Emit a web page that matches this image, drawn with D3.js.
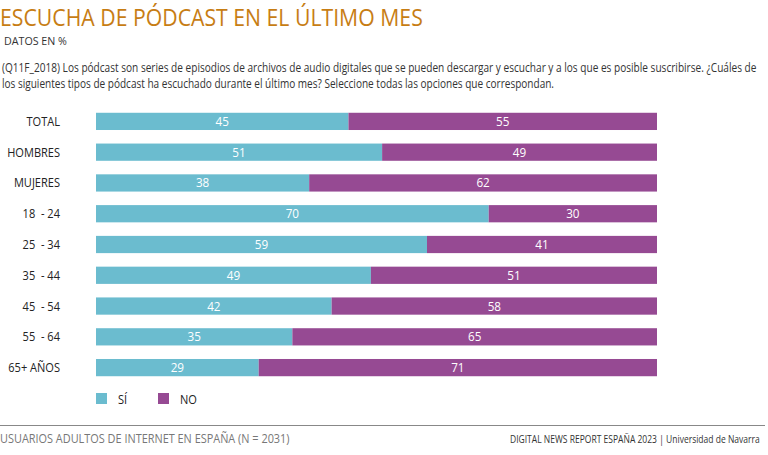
<!DOCTYPE html>
<html><head><meta charset="utf-8">
<script src="https://cdn.jsdelivr.net/npm/d3@7"></script>
<style>body{margin:0;background:#fff}text{font-family:"Open Sans",sans-serif}</style>
</head><body>
<svg id="c" width="768" height="455"></svg>
<script>
const categories = ["TOTAL","HOMBRES","MUJERES","18  - 24","25  - 34","35  - 44","45  - 54","55  - 64","65+ AÑOS"];
const si = [45,51,38,70,59,49,42,35,29];
const no = [55,49,62,30,41,51,58,65,71];
const seriesNames = ["SÍ","NO"];
const colors = ["#6bbccf","#964a93"];

const svg = d3.select("#c");
// horizontally scale a text (reference uses a condensed face); f = factor or target width via w
function squeeze(sel, opt){
  sel.each(function(){
    const t = d3.select(this);
    const x = +t.attr("x"), y = +t.attr("y");
    const l = this.getComputedTextLength();
    const s = opt.w ? opt.w / l : opt.f;
    t.attr("x",0).attr("y",0).attr("transform",`translate(${x},${y}) scale(${s},1)`);
  });
  return sel;
}

squeeze(svg.append("text").attr("x",0).attr("y",26).attr("fill","#c77d14").attr("font-size",23).text("ESCUCHA DE PÓDCAST EN EL ÚLTIMO MES"),{w:423});
squeeze(svg.append("text").attr("x",4).attr("y",45).attr("fill","#333").attr("font-size",11.5).text("DATOS EN %"),{w:63});
squeeze(svg.append("text").attr("x",2).attr("y",72).attr("fill","#333").attr("font-size",12).text("(Q11F_2018) Los pódcast son series de episodios de archivos de audio digitales que se pueden descargar y escuchar y a los que es posible suscribirse. ¿Cuáles de"),{w:755});
squeeze(svg.append("text").attr("x",2).attr("y",88).attr("fill","#333").attr("font-size",12).text("los siguientes tipos de pódcast ha escuchado durante el último mes? Seleccione todas las opciones que correspondan."),{w:553});

const x = d3.scaleLinear().domain([0,100]).range([96,657]);
const y = d3.scaleBand().domain(categories).range([106,383]).paddingInner(0.44).paddingOuter(0.22);

const labels = svg.append("g").selectAll("text").data(categories).join("text")
  .attr("x",60).attr("y",c=>y(c)+y.bandwidth()/2+4.5).attr("text-anchor","end")
  .attr("fill","#222").attr("font-size",13).style("white-space","pre").text(c=>c);
squeeze(labels,{f:0.85});

categories.forEach((c,i)=>{
  const segs = [[0,si[i]],[si[i],si[i]+no[i]]];
  segs.forEach((s,j)=>{
    svg.append("rect").attr("x",x(s[0])).attr("y",y(c)).attr("width",x(s[1])-x(s[0])).attr("height",y.bandwidth()).attr("fill",colors[j]);
    squeeze(svg.append("text").attr("x",(x(s[0])+x(s[1]))/2).attr("y",y(c)+y.bandwidth()/2+4.5).attr("text-anchor","middle").attr("fill","#fff").attr("font-size",13).text(j===0?si[i]:no[i]),{f:0.9});
  });
});

const lg = svg.append("g");
[[96,118],[158,180]].forEach((p,j)=>{
  lg.append("rect").attr("x",p[0]).attr("y",393).attr("width",11).attr("height",11).attr("fill",colors[j]);
  squeeze(lg.append("text").attr("x",p[1]).attr("y",404).attr("fill","#222").attr("font-size",13).text(seriesNames[j]),{f:0.85});
});

svg.append("line").attr("x1",0).attr("x2",765).attr("y1",425.5).attr("y2",425.5).attr("stroke","#888").attr("stroke-width",1.2);
squeeze(svg.append("text").attr("x",0).attr("y",443).attr("fill","#777").attr("font-size",12.5).text("USUARIOS ADULTOS DE INTERNET EN ESPAÑA (N = 2031)"),{w:290});
squeeze(svg.append("text").attr("x",510).attr("y",443).attr("fill","#333").attr("font-size",11).text("DIGITAL NEWS REPORT ESPAÑA 2023 | Universidad de Navarra"),{w:250});
</script>
</body></html>
